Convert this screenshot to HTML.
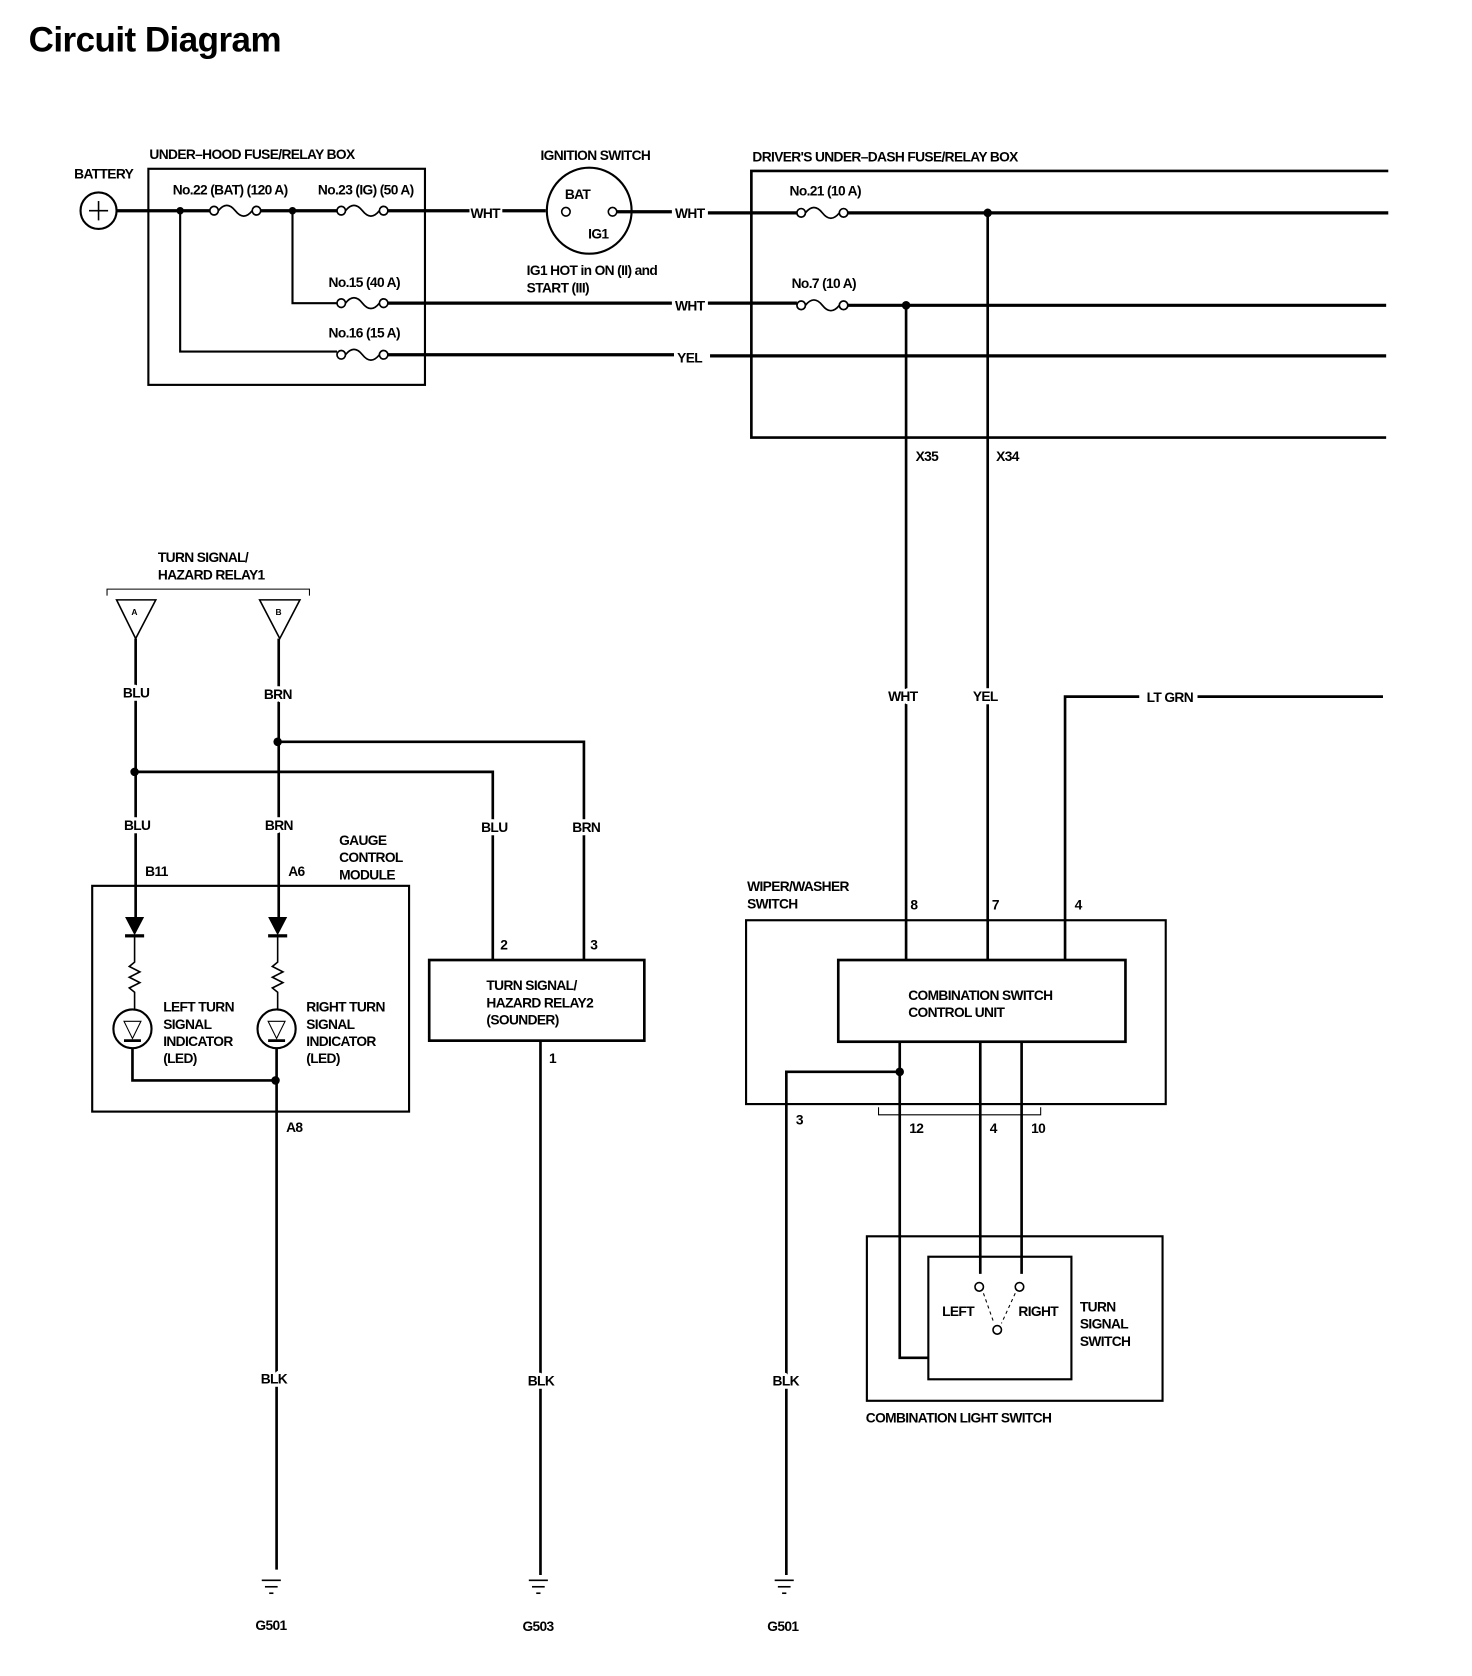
<!DOCTYPE html>
<html><head><meta charset="utf-8"><style>
html,body{margin:0;padding:0;background:#fff;}
svg{display:block;}
text{font-family:"Liberation Sans Narrow","Liberation Sans",sans-serif;font-weight:bold;font-size:13px;fill:#000;letter-spacing:-0.6px;}
.t{font-family:"Liberation Sans",sans-serif;font-size:33px;letter-spacing:-0.5px;}
.w{stroke:#fff;stroke-width:6px;paint-order:stroke;stroke-linejoin:round;}
</style></head><body>
<svg width="1472" height="1676" viewBox="0 0 1389 1559" preserveAspectRatio="none" xmlns="http://www.w3.org/2000/svg">
<defs>
<g id="fuse" fill="none" stroke="#000" stroke-width="1.6">
<circle cx="0" cy="0" r="4" fill="#fff"/><circle cx="40" cy="0" r="4" fill="#fff"/>
<path d="M4,0 Q12,-10 20,0 Q28,10 36,0"/>
</g>
<g id="gnd" stroke="#000" stroke-width="1.5">
<line x1="-9" y1="0" x2="9" y2="0"/><line x1="-6" y1="6" x2="6" y2="6"/><line x1="-2" y1="12" x2="2" y2="12"/>
</g>
</defs>
<text class="t" x="27" y="48">Circuit Diagram</text>

<g stroke="#000" fill="none">
<circle cx="93" cy="196" r="17" stroke-width="2"/>
<line x1="84" y1="196" x2="102" y2="196" stroke-width="1.5"/><line x1="93" y1="187" x2="93" y2="205" stroke-width="1.5"/>
<rect x="140" y="157" width="261" height="201" stroke-width="2"/>
<path d="M110,196 H198 M242,196 H318 M365,196 H443 M474,196 H515" stroke-width="3"/>
<path d="M170,196 V327 H318 M276,196 V282 H318" stroke-width="2"/>
<path d="M365,282 H634 M668,282 H752 M800,284 H1308" stroke-width="3"/>
<path d="M365,330 H636 M670,331 H1308" stroke-width="3"/>
<circle cx="556" cy="196" r="40" stroke-width="2"/>
<circle cx="534" cy="197" r="4" stroke-width="1.5"/><circle cx="578" cy="197" r="4" stroke-width="1.5"/>
<path d="M582,197 H634 M668,198 H752 M800,198 H1310" stroke-width="3"/>
<path d="M1310,159 H709 V407 H1308" stroke-width="2.5"/>
<path d="M855,284 V893 M932,198 V893" stroke-width="2.5"/>
<path d="M1005,893 V648 H1075 M1130,648 H1305" stroke-width="2.5"/>
<rect x="704" y="856" width="396" height="171" stroke-width="2"/>
<rect x="791" y="893" width="271" height="76" stroke-width="2.5"/>
<path d="M849,969 V1263 H876 M925,969 V1185 M964,969 V1185" stroke-width="2.5"/>
<path d="M849,997 H742 V1465" stroke-width="2.5"/>
<path d="M829,1030 V1037 H982 V1030" stroke-width="1"/>
<rect x="818" y="1150" width="279" height="153" stroke-width="2"/>
<rect x="876" y="1169" width="135" height="114" stroke-width="2"/>
<circle cx="924" cy="1197" r="4" stroke-width="1.5"/><circle cx="962" cy="1197" r="4" stroke-width="1.5"/><circle cx="941" cy="1237" r="4" stroke-width="1.5"/>
<path d="M928,1203 L938,1231 M958,1203 L945,1231" stroke-width="1" stroke-dasharray="3,3"/>
<path d="M101,554 V548 H292 V554" stroke-width="1"/>
<path d="M110,558 H147 L128,594 Z M245,558 H283 L264,594 Z" stroke-width="1.5"/>
<path d="M128,594 V853 M263,594 V853" stroke-width="2.5"/>
<path d="M262,690 H551 V893 M127,718 H465 V893" stroke-width="2.5"/>
<rect x="87" y="824" width="299" height="210" stroke-width="2"/>
<path d="M127,871 V895 l-5,4 l10,5 l-10,5 l10,5 l-10,5 l5,4 V939 M262,871 V895 l-5,4 l10,5 l-10,5 l10,5 l-10,5 l5,4 V939" stroke-width="1.5"/>
<circle cx="125" cy="957" r="18" stroke-width="2"/><circle cx="261" cy="957" r="18" stroke-width="2"/>
<path d="M117,950 H133 L125,966 Z M253,950 H269 L261,966 Z" stroke-width="1"/>
<path d="M117,968 H133 M253,968 H269" stroke-width="2.5"/>
<path d="M125,975 V1005 H260 M261,975 V1460" stroke-width="2.5"/>
<rect x="405" y="893" width="203" height="75" stroke-width="2.5"/>
<path d="M510,968 V1465" stroke-width="2.5"/>
</g>
<g fill="#000">
<circle cx="170" cy="196" r="3.5"/><circle cx="276" cy="196" r="3.5"/>
<circle cx="932" cy="198" r="4"/><circle cx="855" cy="284" r="4"/>
<circle cx="849" cy="997" r="4"/><circle cx="262" cy="690" r="4"/><circle cx="127" cy="718" r="4"/><circle cx="260" cy="1005" r="4"/>
<path d="M118,853 H136 L127,870 Z M253,853 H271 L262,870 Z"/>
<rect x="118" y="869" width="18" height="3"/><rect x="253" y="869" width="18" height="3"/>
</g>
<use href="#fuse" x="202" y="196"/><use href="#fuse" x="322" y="196"/>
<use href="#fuse" x="322" y="282"/><use href="#fuse" x="322" y="330"/>
<use href="#fuse" x="756" y="198"/><use href="#fuse" x="756" y="284"/>
<use href="#gnd" x="256" y="1470"/><use href="#gnd" x="508" y="1470"/><use href="#gnd" x="740" y="1470"/>

<text x="141" y="148">UNDER–HOOD FUSE/RELAY BOX</text>
<text x="70" y="166">BATTERY</text>
<text x="163" y="181">No.22 (BAT) (120 A)</text>
<text x="300" y="181">No.23 (IG) (50 A)</text>
<text x="310" y="267">No.15 (40 A)</text>
<text x="310" y="314">No.16 (15 A)</text>
<text x="444" y="203">WHT</text>
<text x="510" y="149">IGNITION SWITCH</text>
<text x="533" y="185">BAT</text>
<text x="555" y="222">IG1</text>
<text x="497" y="256">IG1 HOT in ON (II) and</text>
<text x="497" y="272">START (III)</text>
<text x="637" y="203">WHT</text>
<text x="637" y="289">WHT</text>
<text x="639" y="337">YEL</text>
<text x="710" y="150">DRIVER'S UNDER–DASH FUSE/RELAY BOX</text>
<text x="745" y="182">No.21 (10 A)</text>
<text x="747" y="268">No.7 (10 A)</text>
<text x="864" y="429">X35</text>
<text x="940" y="429">X34</text>
<text class="w" x="838" y="652">WHT</text>
<text class="w" x="918" y="652">YEL</text>
<text x="1082" y="653">LT GRN</text>
<text x="705" y="829">WIPER/WASHER</text>
<text x="705" y="845">SWITCH</text>
<text x="859" y="846">8</text><text x="936" y="846">7</text><text x="1014" y="846">4</text>
<text x="857" y="930">COMBINATION SWITCH</text>
<text x="857" y="946">CONTROL UNIT</text>
<text x="751" y="1046">3</text><text x="858" y="1054">12</text><text x="934" y="1054">4</text><text x="973" y="1054">10</text>
<text x="889" y="1224">LEFT</text><text x="961" y="1224">RIGHT</text>
<text x="1019" y="1220">TURN</text><text x="1019" y="1236">SIGNAL</text><text x="1019" y="1252">SWITCH</text>
<text x="817" y="1323">COMBINATION LIGHT SWITCH</text>
<text class="w" x="729" y="1289">BLK</text>
<text x="724" y="1517">G501</text>
<text x="149" y="523">TURN SIGNAL/</text>
<text x="149" y="539">HAZARD RELAY1</text>
<text x="124" y="572" style="font-size:8px">A</text><text x="260" y="572" style="font-size:8px">B</text>
<text class="w" x="116" y="649">BLU</text><text class="w" x="249" y="650">BRN</text>
<text class="w" x="117" y="772">BLU</text><text class="w" x="250" y="772">BRN</text>
<text class="w" x="454" y="774">BLU</text><text class="w" x="540" y="774">BRN</text>
<text x="137" y="815">B11</text><text x="272" y="815">A6</text>
<text x="320" y="786">GAUGE</text><text x="320" y="802">CONTROL</text><text x="320" y="818">MODULE</text>
<text x="154" y="941">LEFT TURN</text><text x="154" y="957">SIGNAL</text><text x="154" y="973">INDICATOR</text><text x="154" y="989">(LED)</text>
<text x="289" y="941">RIGHT TURN</text><text x="289" y="957">SIGNAL</text><text x="289" y="973">INDICATOR</text><text x="289" y="989">(LED)</text>
<text x="270" y="1053">A8</text>
<text class="w" x="246" y="1287">BLK</text>
<text x="241" y="1516">G501</text>
<text x="472" y="883">2</text><text x="557" y="883">3</text><text x="518" y="989">1</text>
<text x="459" y="921">TURN SIGNAL/</text><text x="459" y="937">HAZARD RELAY2</text><text x="459" y="953">(SOUNDER)</text>
<text class="w" x="498" y="1289">BLK</text>
<text x="493" y="1517">G503</text>
</svg>
</body></html>
